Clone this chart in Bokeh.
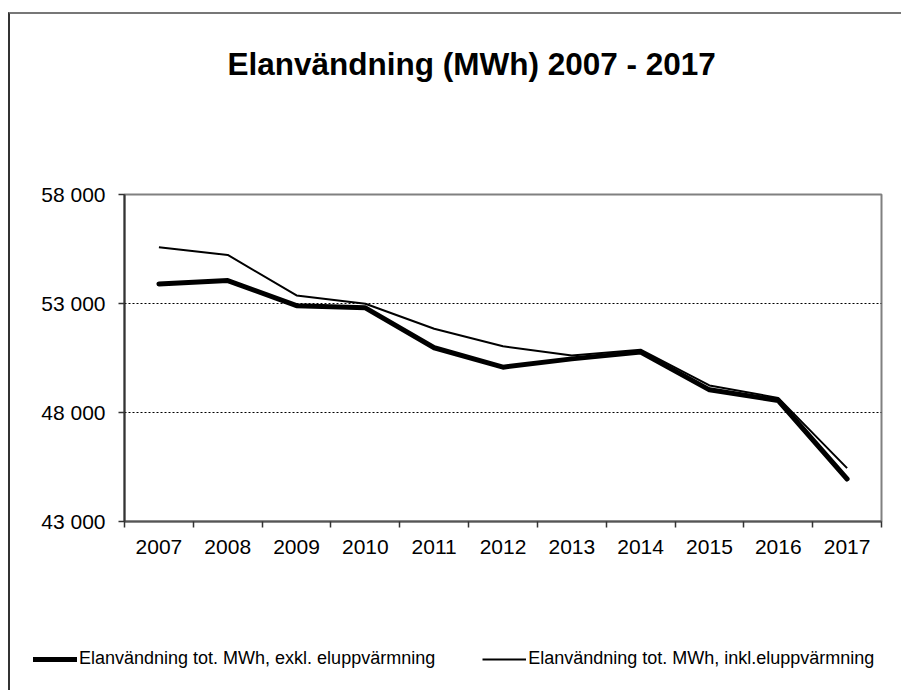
from bokeh.plotting import figure
from bokeh.models import Range1d, FixedTicker, Legend, LegendItem, Title
from bokeh.layouts import column
from bokeh.embed import file_html
from bokeh.resources import INLINE

years = ["2007", "2008", "2009", "2010", "2011", "2012", "2013", "2014", "2015", "2016", "2017"]
exkl = [53900, 54050, 52900, 52800, 50970, 50080, 50460, 50770, 49040, 48550, 44950]
inkl = [55580, 55230, 53370, 52990, 51840, 51040, 50620, 50880, 49240, 48670, 45450]
y_ticks = [43000, 48000, 53000, 58000]
y_tick_labels = ["43 000", "48 000", "53 000", "58 000"]
title_text = "Elanvändning (MWh) 2007 - 2017"
label_exkl = "Elanvändning tot. MWh, exkl. eluppvärmning"
label_inkl = "Elanvändning tot. MWh, inkl.eluppvärmning"

FONT = "Liberation Sans"
xs = list(range(len(years)))

p = figure(width=891, height=552, output_backend="svg", toolbar_location=None, title=None,
           x_range=Range1d(-0.5, len(years) - 0.5), y_range=Range1d(43000, 58000),
           min_border_left=114, min_border_right=20, min_border_top=180, min_border_bottom=45)
p.frame_align = False

# spacer above the frame, then the title
p.add_layout(Title(text=" ", text_font_size="10px", standoff=100), "above")
p.add_layout(Title(text=title_text, text_font=FONT, text_font_size="31.5px", text_font_style="bold",
                   text_color="black", align="left", offset=103, standoff=0), "above")

p.outline_line_color = "#808080"
p.outline_line_width = 2

# axes
xa = p.xaxis[0]
xa.ticker = FixedTicker(ticks=xs, minor_ticks=[i - 0.5 for i in range(len(years) + 1)])
xa.major_label_overrides = {i: y for i, y in enumerate(years)}
xa.major_tick_line_color = None
xa.minor_tick_out = 6
xa.minor_tick_in = 0
xa.minor_tick_line_color = "#333333"
xa.minor_tick_line_width = 1.5
xa.axis_line_color = "#555555"
xa.axis_line_width = 2
xa.major_label_text_font = FONT
xa.major_label_text_font_size = "21px"
xa.major_label_text_color = "black"
xa.major_label_standoff = 12

ya = p.yaxis[0]
ya.ticker = FixedTicker(ticks=y_ticks)
ya.major_label_overrides = {t: l for t, l in zip(y_ticks, y_tick_labels)}
ya.major_tick_out = 6
ya.major_tick_in = 0
ya.major_tick_line_color = "#333333"
ya.major_tick_line_width = 1.5
ya.minor_tick_line_color = None
ya.axis_line_color = "#333333"
ya.axis_line_width = 2
ya.major_label_text_font = FONT
ya.major_label_text_font_size = "21px"
ya.major_label_text_color = "black"
ya.major_label_standoff = 13

p.xgrid.grid_line_color = None
p.ygrid.ticker = FixedTicker(ticks=y_ticks)
p.ygrid.grid_line_color = "black"
p.ygrid.grid_line_dash = "2 2"
p.ygrid.grid_line_width = 1

p.line(xs, exkl, line_color="black", line_width=5, line_join="round", line_cap="round")
p.line(xs, inkl, line_color="black", line_width=2, line_join="round")

# legend strip (its own lines lie outside its ranges, so only the legend shows)
p2 = figure(width=891, height=124, output_backend="svg", toolbar_location=None, title=None,
            x_range=Range1d(100, 101), y_range=Range1d(0, 1),
            x_axis_location=None, y_axis_location=None,
            min_border_left=0, min_border_right=0, min_border_top=0, min_border_bottom=0)
p2.frame_align = False
p2.outline_line_color = None
p2.xgrid.grid_line_color = None
p2.ygrid.grid_line_color = None
g1 = p2.line(xs, exkl, line_color="black", line_width=5, line_cap="round")
g2 = p2.line(xs, inkl, line_color="black", line_width=2)
legend = Legend(items=[LegendItem(label=label_exkl, renderers=[g1]),
                       LegendItem(label=label_inkl, renderers=[g2])],
                orientation="horizontal", location=(23, 21), margin=0,
                padding=0, spacing=47, glyph_width=44, glyph_height=20,
                label_standoff=2, border_line_color=None, background_fill_alpha=0,
                label_text_font=FONT, label_text_font_size="18px",
                label_text_color="black")
p2.add_layout(legend, "center")

layout = column(p, p2, spacing=0, margin=(12, 0, 0, 8),
                styles={"border-left": "2px solid #333333", "border-top": "2px solid #777777"})

open("out.html", "w").write(file_html(layout, INLINE))
